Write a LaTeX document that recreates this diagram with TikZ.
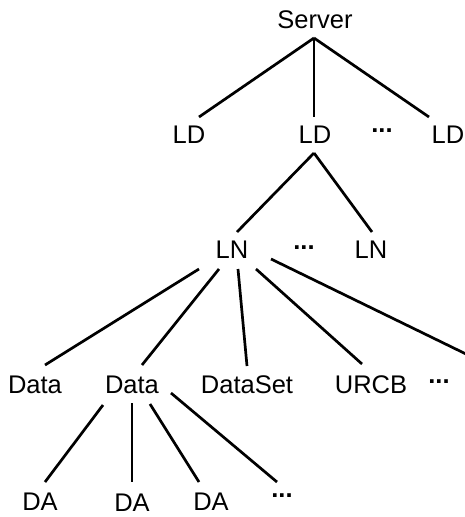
\documentclass[tikz,border=0pt]{standalone}
\usepackage{fontspec}
\setmainfont{Liberation Sans}
\usetikzlibrary{calc}
\tikzset{
  lbl/.style={anchor=base, inner sep=0pt, font=\fontsize{25.5}{30}\selectfont},
  more/.style={anchor=base, inner sep=0pt, font=\fontsize{25.5}{30}\selectfont\bfseries},
  link/.style={line width=2.7pt, black}
}
\begin{document}
\begin{tikzpicture}[x=1pt, y=-1pt]
\useasboundingbox (0,0) rectangle (464,517);
% nodes
\node[lbl] (srv) at (315,28) {Server};
\node[lbl] (ld1) at (189,143) {LD};
\node[lbl] (ld2) at (315,143) {LD};
\node[more] (dots1) at (382,132) {...};
\node[lbl] (ld3) at (448,143) {LD};
\node[lbl] (ln1) at (232,258) {LN};
\node[more] (dots2) at (304,249) {...};
\node[lbl] (ln2) at (371,258) {LN};
\node[lbl] (d1) at (35,393) {Data};
\node[lbl] (d2) at (132,393) {Data};
\node[lbl] (ds) at (247,393) {DataSet};
\node[lbl] (urcb) at (371,393) {URCB};
\node[more] (dots3) at (439,383) {...};
\node[lbl] (da1) at (40,510) {DA};
\node[lbl] (da2) at (132,511) {DA};
\node[lbl] (da3) at (211,510) {DA};
\node[more] (dots4) at (282,497) {...};
\coordinate (offright) at (466,354);
% connectors
\draw[link] ($(srv.base)+(-1,10)$) -- ($(ld1.base)+(10,-26)$);
\draw[link] ($(srv.base)+(-1,10)$) -- ($(ld2.base)+(-1,-26)$);
\draw[link] ($(srv.base)+(-1,10)$) -- ($(ld3.base)+(-19,-26)$);
\draw[link] ($(ld2.base)+(-1,10)$) -- ($(ln1.base)+(5,-26)$);
\draw[link] ($(ld2.base)+(-1,10)$) -- ($(ln2.base)+(1,-26)$);
\draw[link] ($(ln1.base)+(-33,11)$) -- ($(d1.base)+(10,-28)$);
\draw[link] ($(ln1.base)+(-13,11)$) -- ($(d2.base)+(10,-28)$);
\draw[link] ($(ln1.base)+(6,11)$) -- ($(ds.base)+(0,-27)$);
\draw[link] ($(ln1.base)+(24,11)$) -- ($(urcb.base)+(-9,-29)$);
\draw[link] ($(ln1.base)+(39,1)$) -- (offright);
\draw[link] ($(d2.base)+(-29,12)$) -- ($(da1.base)+(5,-28)$);
\draw[link] ($(d2.base)+(0,10)$) -- ($(da2.base)+(0,-29)$);
\draw[link] ($(d2.base)+(18,11)$) -- ($(da3.base)+(-12,-28)$);
\draw[link] ($(d2.base)+(39,0)$) -- ($(dots4.base)+(-5,-15)$);
\end{tikzpicture}
\end{document}
